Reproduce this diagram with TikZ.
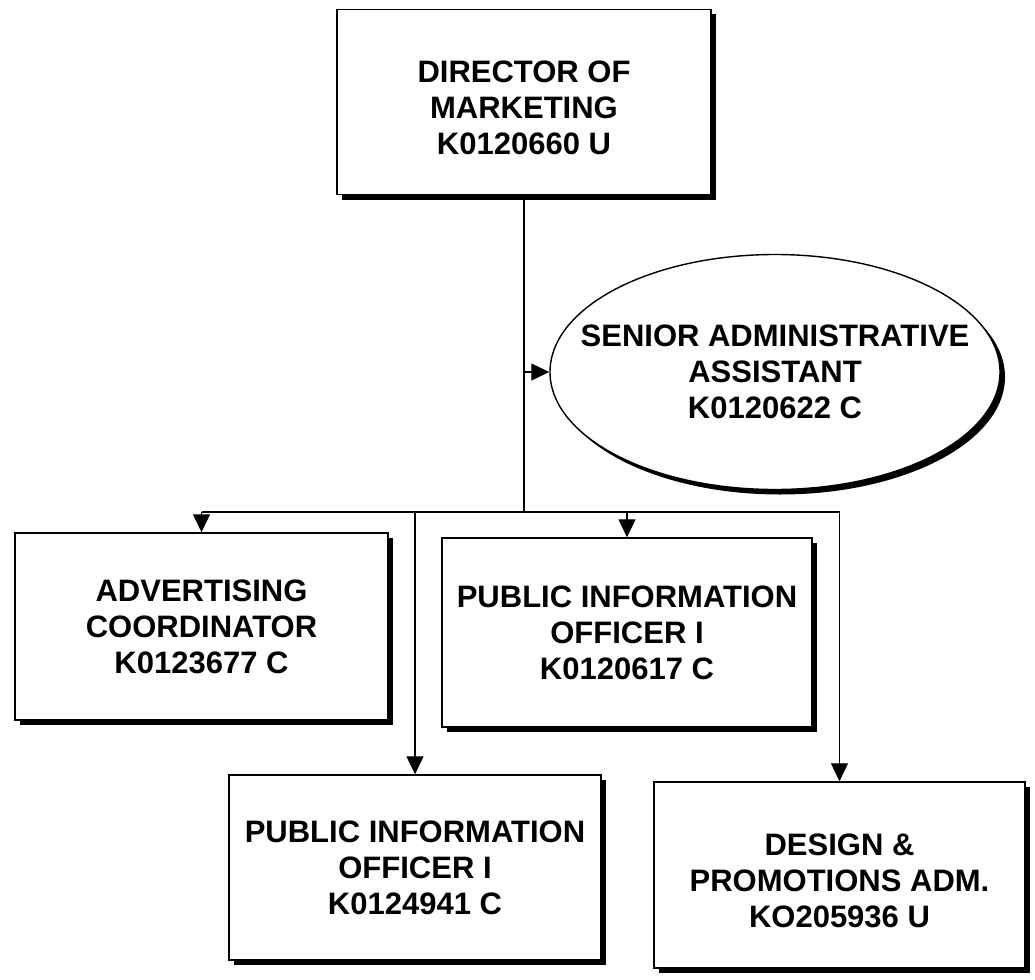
\documentclass[tikz,border=0pt]{standalone}
\usepackage{fontspec}
\setmainfont{Liberation Sans}
\usetikzlibrary{shapes.geometric,shadows,arrows.meta}
\begin{document}
\begin{tikzpicture}[x=1pt,y=1pt,
  txt/.style={font=\fontsize{31}{36}\selectfont\bfseries, align=center},
  shad/.style={drop shadow={shadow xshift=5pt, shadow yshift=-5pt, fill=black, opacity=1}},
  posbox/.style={txt, rectangle, draw, line width=1.4pt, fill=white, shad, inner sep=0pt},
  posell/.style={ellipse, draw, line width=1.4pt, fill=white, shad, inner sep=0pt},
  lowtext/.style={label={[txt,yshift=-6pt]center:{#1}}},
  conn/.style={line width=1.1pt},
  arr/.style={conn, -{Triangle[length=18pt,width=17pt]}}]
\useasboundingbox[fill=white] (0,0) rectangle (1035,-979);

\node[posbox, minimum width=374pt, minimum height=185pt,
  lowtext={DIRECTOR OF\\MARKETING\\K0120660 U}] (dir) at (524,-102) {};
\node[posell, minimum width=450pt, minimum height=235pt,
  label={[txt]center:{SENIOR ADMINISTRATIVE\\ASSISTANT\\K0120622 C}}] (sec) at (775,-372) {};
\node[posbox, minimum width=373pt, minimum height=187pt] (adv) at (201.5,-626.5) {ADVERTISING\\COORDINATOR\\K0123677 C};
\node[posbox, minimum width=370pt, minimum height=189pt] (pioa) at (627,-632.5) {PUBLIC INFORMATION\\OFFICER I\\K0120617 C};
\node[posbox, minimum width=372pt, minimum height=185pt] (piob) at (415,-867.5) {PUBLIC INFORMATION\\OFFICER I\\K0124941 C};
\node[posbox, minimum width=371pt, minimum height=186pt,
  lowtext={DESIGN \&\\PROMOTIONS ADM.\\KO205936 U}] (des) at (839.5,-875) {};

\coordinate (bus) at (524,-512);
\draw[conn] (dir.south) -- (bus);
\draw[arr] (dir.south |- sec.west) -- (sec.west);
\draw[conn] (adv.north |- bus) -- (des.north |- bus);
\draw[arr] (adv.north |- bus) -- (adv.north);
\draw[arr] (pioa.north |- bus) -- (pioa.north);
\draw[arr] (piob.north |- bus) -- (piob.north);
\draw[arr] (des.north |- bus) -- (des.north);
\end{tikzpicture}
\end{document}
